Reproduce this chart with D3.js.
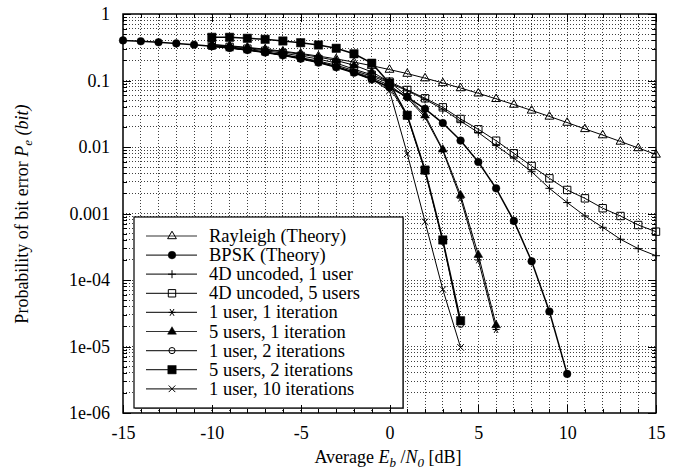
<!DOCTYPE html>
<html>
<head>
<meta charset="utf-8">
<script src="https://cdn.jsdelivr.net/npm/d3@7"></script>
<style>
  html, body { margin: 0; padding: 0; background: #fff; }
  .grid line { stroke: #000; stroke-width: 1; stroke-dasharray: 1,2; shape-rendering: crispEdges; opacity: 0.75; }
  .axis line { stroke: #000; stroke-width: 1; shape-rendering: crispEdges; }
  .series { fill: none; stroke: #000; }
</style>
</head>
<body>
<div id="chart"></div>
<script>
// Eb/N0 points (dB) for each curve
const snrRayleigh = [-10,-9,-8,-7,-6,-5,-4,-3,-2,-1,0,1,2,3,4,5,6,7,8,9,10,11,12,13,14,15];
const snrBpsk = [-15,-14,-13,-12,-11,-10,-9,-8,-7,-6,-5,-4,-3,-2,-1,0,1,2,3,4,5,6,7,8,9,10];
const snr4d = [-10,-9,-8,-7,-6,-5,-4,-3,-2,-1,0,1,2,3,4,5,6,7,8,9,10,11,12,13,14,15];
const snrIter1 = [-10,-9,-8,-7,-6,-5,-4,-3,-2,-1,0,1,2,3,4,5,6];
const snrIter2 = [-10,-9,-8,-7,-6,-5,-4,-3,-2,-1,0,1,2,3,4];

// bit error probabilities
const rayleigh = [0.349,0.333,0.315,0.296,0.276,0.255,0.233,0.211,0.189,0.167,0.146,0.127,0.1085,0.0919,0.0771,0.0642,0.053,0.0435,0.0355,0.0288,0.0233,0.0187,0.0151,0.0121,0.00966,0.00772];
const bpsk = [0.401,0.389,0.376,0.361,0.345,0.327,0.308,0.287,0.264,0.239,0.213,0.186,0.158,0.131,0.104,0.0786,0.0563,0.0375,0.0229,0.0125,0.00595,0.00239,0.000773,0.000191,3.36e-5,3.87e-6];
const uncoded1 = [0.330,0.311,0.290,0.268,0.245,0.221,0.196,0.170,0.141,0.116,0.092,0.070,0.052,0.037,0.0245,0.0165,0.0105,0.0068,0.00425,0.00239,0.00146,0.00092,0.00062,0.00041,0.000296,0.000232];
const uncoded5 = [0.338,0.320,0.301,0.280,0.258,0.234,0.210,0.183,0.148,0.122,0.096,0.072,0.054,0.0395,0.0264,0.01845,0.01244,0.00804,0.00518,0.00338,0.00226,0.00169,0.0012,0.000917,0.000671,0.000533];
const user1iter1 = [0.330,0.310,0.289,0.266,0.242,0.217,0.190,0.163,0.135,0.110,0.085,0.055,0.028,0.0088,0.0017,0.0002,1.8e-5];
const user5iter1 = [0.345,0.328,0.310,0.290,0.270,0.248,0.225,0.200,0.170,0.135,0.095,0.058,0.030,0.0092,0.0019,0.00024,2.1e-5];
const user1iter2 = [0.328,0.309,0.288,0.265,0.241,0.215,0.188,0.160,0.132,0.105,0.080,0.029,0.0043,0.00038,2.15e-5];
const user5iter2 = [0.446,0.446,0.431,0.416,0.393,0.370,0.342,0.305,0.252,0.182,0.091,0.030,0.0045,0.0004,2.44e-5];
const user1iter10 = [0.328,0.309,0.288,0.265,0.241,0.215,0.188,0.160,0.132,0.105,0.070,0.0079,0.00075,7.2e-5,9.7e-6];

const xTicks = [-15,-10,-5,0,5,10,15];
const xTickLabels = ["-15","-10","-5","0","5","10","15"];
const yTicks = [1,0.1,0.01,0.001,1e-4,1e-5,1e-6];
const yTickLabels = ["1","0.1","0.01","0.001","1e-04","1e-05","1e-06"];

const series = [
  { name: "Rayleigh (Theory)", x: snrRayleigh, y: rayleigh, marker: "triOpen", w: 1 },
  { name: "BPSK (Theory)", x: snrBpsk, y: bpsk, marker: "circleFill", w: 1.5 },
  { name: "4D uncoded, 1 user", x: snr4d, y: uncoded1, marker: "plus", w: 1 },
  { name: "4D uncoded, 5 users", x: snr4d, y: uncoded5, marker: "squareOpen", w: 1 },
  { name: "1 user, 1 iteration", x: snrIter1, y: user1iter1, marker: "star", w: 1 },
  { name: "5 users, 1 iteration", x: snrIter1, y: user5iter1, marker: "triFill", w: 1 },
  { name: "1 user, 2 iterations", x: snrIter2, y: user1iter2, marker: "circleOpen", w: 1 },
  { name: "5 users, 2 iterations", x: snrIter2, y: user5iter2, marker: "squareFill", w: 1.5 },
  { name: "1 user, 10 iterations", x: snrIter2, y: user1iter10, marker: "cross", w: 1 }
];

const FONT = '"Liberation Serif", "Times New Roman", serif';
const W = 682, H = 470;
const x = d3.scaleLinear().domain([-15, 15]).range([123, 656]);
const y = d3.scaleLog().domain([1e-6, 1]).range([413, 14]);

const svg = d3.select('#chart').append('svg')
  .attr('width', W).attr('height', H)
  .style('font-family', FONT);

// grid
const grid = svg.append('g').attr('class', 'grid');
const vgrid = d3.range(-14, 15);
grid.selectAll('line.v').data(vgrid).join('line')
  .attr('class', 'v')
  .attr('x1', d => x(d)).attr('x2', d => x(d))
  .attr('y1', y(1)).attr('y2', y(1e-6));
const hgrid = [];
for (let e = -6; e < 0; e++) for (let k = 1; k <= 9; k++) {
  if (e === -6 && k === 1) continue;
  hgrid.push(k * Math.pow(10, e));
}
grid.selectAll('line.h').data(hgrid).join('line')
  .attr('class', 'h')
  .attr('x1', x(-15)).attr('x2', x(15))
  .attr('y1', d => y(d)).attr('y2', d => y(d));

// marker shapes
function markerPath(type) {
  switch (type) {
    case 'triOpen': case 'triFill':
      return 'M0,-4.8L4.4,2.7L-4.4,2.7Z';
    case 'squareOpen': return 'M-3.7,-3.7H3.7V3.7H-3.7Z';
    case 'squareFill': return 'M-4.2,-4.2H4.2V4.2H-4.2Z';
    case 'plus': return 'M-4,0H4M0,-4V4';
    case 'cross': return 'M-3.3,-3.3L3.3,3.3M-3.3,3.3L3.3,-3.3';
    case 'star': return 'M-3.5,0H3.5M-2,-3.4L2,3.4M-2,3.4L2,-3.4';
    case 'circleFill': return d3.symbol(d3.symbolCircle, 46)();
    case 'circleOpen': return d3.symbol(d3.symbolCircle, 30)();
  }
}
function markerStyle(sel, type) {
  const filled = ['triFill', 'squareFill', 'circleFill'].includes(type);
  sel.attr('d', markerPath(type))
    .attr('fill', filled ? '#000' : 'none')
    .attr('stroke', '#000')
    .attr('stroke-width', filled ? 0.5 : 1);
}

const line = d3.line().x(d => x(d[0])).y(d => y(d[1]));
const plot = svg.append('g');
series.forEach(s => {
  const pts = s.x.map((v, i) => [v, s.y[i]]);
  plot.append('path').datum(pts)
    .attr('class', 'series')
    .attr('stroke-width', s.w)
    .attr('d', line);
  plot.append('g').selectAll('path').data(pts).join('path')
    .attr('transform', d => `translate(${x(d[0])},${y(d[1])})`)
    .call(markerStyle, s.marker);
});

// legend
const legend = svg.append('g');
legend.append('rect')
  .attr('x', 135).attr('y', 218).attr('width', 269).attr('height', 191)
  .attr('fill', '#888');
legend.append('rect')
  .attr('x', 134).attr('y', 217).attr('width', 269).attr('height', 191)
  .attr('fill', '#fff').attr('stroke', '#000').attr('stroke-width', 1.2);
const rows = legend.selectAll('g.row').data(series).join('g')
  .attr('class', 'row')
  .attr('transform', (d, i) => `translate(0,${236 + i * 19.1})`);
rows.append('line')
  .attr('x1', 146).attr('x2', 197).attr('y1', 0).attr('y2', 0)
  .attr('stroke', '#333').attr('stroke-width', 1.2);
rows.append('path')
  .attr('transform', 'translate(172,0)')
  .each(function(d) { d3.select(this).call(markerStyle, d.marker); });
rows.append('text')
  .attr('x', 209).attr('y', 6)
  .style('font-family', FONT)
  .style('font-size', '18.5px')
  .text(d => d.name);

// axes
const xFmt = d => xTickLabels[xTicks.indexOf(d)];
const yFmt = d => yTickLabels[yTicks.indexOf(d)];
function clean(g) {
  g.select('.domain').remove();
  g.attr('font-family', null).attr('font-size', null);
  g.selectAll('text').style('font-family', FONT).style('font-size', '18px').attr('fill', '#000');
}
svg.append('g').attr('class', 'axis')
  .attr('transform', `translate(0,${y(1e-6)})`)
  .call(d3.axisBottom(x).tickValues(vgrid).tickSize(-4).tickFormat(''))
  .call(clean);
svg.append('g').attr('class', 'axis')
  .attr('transform', `translate(0,${y(1e-6)})`)
  .call(d3.axisBottom(x).tickValues(xTicks).tickSize(-8).tickPadding(13).tickFormat(xFmt))
  .call(clean);
svg.append('g').attr('class', 'axis')
  .attr('transform', `translate(0,${y(1)})`)
  .call(d3.axisTop(x).tickValues(vgrid).tickSize(-4).tickFormat(''))
  .call(clean);
svg.append('g').attr('class', 'axis')
  .attr('transform', `translate(0,${y(1)})`)
  .call(d3.axisTop(x).tickValues(xTicks).tickSize(-8).tickFormat(''))
  .call(clean);
svg.append('g').attr('class', 'axis')
  .attr('transform', `translate(${x(-15)},0)`)
  .call(d3.axisLeft(y).tickValues(hgrid).tickSize(-4).tickFormat(''))
  .call(clean);
svg.append('g').attr('class', 'axis')
  .attr('transform', `translate(${x(-15)},0)`)
  .call(d3.axisLeft(y).tickValues(yTicks).tickSize(-8).tickPadding(13).tickFormat(yFmt))
  .call(clean);
svg.append('g').attr('class', 'axis')
  .attr('transform', `translate(${x(15)},0)`)
  .call(d3.axisRight(y).tickValues(hgrid).tickSize(-4).tickFormat(''))
  .call(clean);
svg.append('g').attr('class', 'axis')
  .attr('transform', `translate(${x(15)},0)`)
  .call(d3.axisRight(y).tickValues(yTicks).tickSize(-8).tickFormat(''))
  .call(clean);

svg.append('rect')
  .attr('x', x(-15)).attr('y', y(1))
  .attr('width', x(15) - x(-15)).attr('height', y(1e-6) - y(1))
  .attr('fill', 'none').attr('stroke', '#000').attr('stroke-width', 1.5);

// axis titles
const xt = svg.append('text')
  .attr('x', 388).attr('y', 463)
  .attr('text-anchor', 'middle')
  .style('font-family', FONT)
  .style('font-size', '18px');
xt.append('tspan').text('Average  ');
xt.append('tspan').style('font-style', 'italic').text('E');
xt.append('tspan').style('font-style', 'italic').style('font-size', '13px').attr('dy', 4).text('b');
xt.append('tspan').attr('dy', -4).text(' /');
xt.append('tspan').style('font-style', 'italic').text('N');
xt.append('tspan').style('font-style', 'italic').style('font-size', '13px').attr('dy', 4).text('0');
xt.append('tspan').attr('dy', -4).text(' [dB]');

const yt = svg.append('text')
  .attr('transform', 'translate(28,214) rotate(-90)')
  .attr('text-anchor', 'middle')
  .style('font-family', FONT)
  .style('font-size', '18px');
yt.append('tspan').text('Probability of bit error  ');
yt.append('tspan').style('font-style', 'italic').text('P');
yt.append('tspan').style('font-style', 'italic').style('font-size', '13px').attr('dy', 4).text('e');
yt.append('tspan').style('font-style', 'italic').attr('dy', -4).text(' (bit)');
</script>
</body>
</html>
